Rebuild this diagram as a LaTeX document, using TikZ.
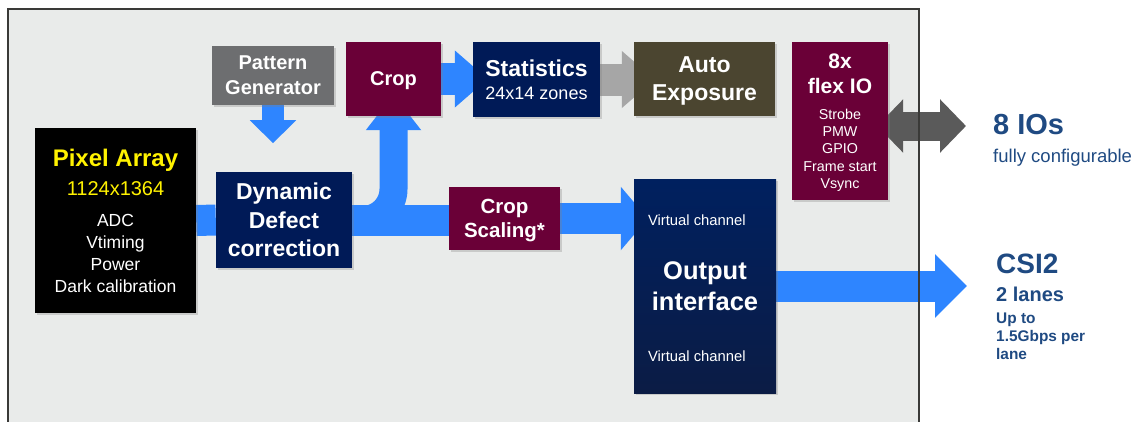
\documentclass[tikz,border=0pt]{standalone}
\usepackage{fontspec}
\setmainfont{Liberation Sans}
\usetikzlibrary{arrows.meta,shadows}
\definecolor{panelgray}{HTML}{E9EBEA}
\definecolor{panelline}{HTML}{3A3A38}
\definecolor{flowblue}{HTML}{2E85FF}
\definecolor{navy}{HTML}{001A57}
\definecolor{outtop}{HTML}{00205F}
\definecolor{outbottom}{HTML}{0B1C45}
\definecolor{cropred}{HTML}{6A0037}
\definecolor{aeolive}{HTML}{4B4530}
\definecolor{pggray}{HTML}{6D6E70}
\definecolor{statgray}{HTML}{A6A6A6}
\definecolor{iogray}{HTML}{5A5A5A}
\definecolor{pxyellow}{HTML}{FFF200}
\definecolor{labelblue}{HTML}{1F4A82}
\pgfdeclarelayer{back}
\pgfdeclarelayer{mid}
\pgfsetlayers{back,mid,main}
\begin{document}
\begin{tikzpicture}[x=1pt,y=-1pt]
\tikzstyle{every node}+=[inner sep=0pt]
\tikzstyle{box}=[rectangle, text=white, align=center, drop shadow={shadow xshift=1.5pt,shadow yshift=-1.5pt,opacity=0.3}]
\tikzstyle{band}=[color=flowblue, line width=31pt]
\tikzstyle{side}=[text=labelblue, anchor=north west, align=left]
\useasboundingbox (0,0) rectangle (1145,421);
\begin{pgfonlayer}{back}
\fill [panelgray] (8,9) rectangle (919,430);
\end{pgfonlayer}
\draw [panelline, line width=1.8pt] (8,430) -- (8,9) -- (919,9) -- (919,430);
\node [box, fill=black, minimum width=161pt, minimum height=185pt, font=\fontsize{17.5}{22}\selectfont] (pa) at (115.5,220.5) {{\fontsize{24}{28}\selectfont\bfseries\color{pxyellow}Pixel Array}\\[7pt]{\fontsize{20}{24}\selectfont\color{pxyellow}1124x1364}\\[9pt]ADC\\Vtiming\\Power\\Dark calibration};
\node [box, fill=pggray, minimum width=122pt, minimum height=59pt, font=\fontsize{20}{25}\selectfont\bfseries] (pg) at (273,75.5) {Pattern\\Generator};
\node [box, fill=cropred, minimum width=95pt, minimum height=74pt, text depth=0pt, font=\fontsize{20}{25}\selectfont\bfseries] (crop) at (393.5,79) {Crop};
\node [box, fill=navy, minimum width=136pt, minimum height=96pt, font=\fontsize{23}{28.5}\selectfont\bfseries] (ddc) at (284,220) {Dynamic\\Defect\\correction};
\node [box, fill=cropred, minimum width=111pt, minimum height=63pt, text depth=0pt, font=\fontsize{20.5}{24}\selectfont\bfseries] (cs) at (504.5,218.5) {Crop\\Scaling*};
\node [box, top color=outtop, bottom color=outbottom, minimum width=142pt, minimum height=214pt, font=\fontsize{25.5}{31}\selectfont\bfseries] (out) at (705,286) {Output\\interface};
\node [box, fill=navy, minimum width=127pt, minimum height=75pt, font=\fontsize{18}{23}\selectfont] (stats) at (536.5,79.5) {{\fontsize{23}{28}\selectfont\bfseries Statistics}\\24x14 zones};
\node [box, fill=aeolive, minimum width=141pt, minimum height=74pt, text depth=0pt, font=\fontsize{23}{28}\selectfont\bfseries] (ae) at (704.5,79) {Auto\\Exposure};
\node [box, fill=cropred, minimum width=96pt, minimum height=158pt, text depth=0pt, font=\fontsize{14.3}{17.3}\selectfont] (fio) at (840,121) {{\fontsize{21}{25}\selectfont\bfseries 8x}\\[7.7pt]{\fontsize{21}{25}\selectfont\bfseries flex IO}\\[8.7pt]Strobe\\PMW\\GPIO\\Frame start\\Vsync};
\node [text=white, anchor=west, font=\fontsize{14.8}{18}\selectfont] (vctop) at ([xshift=14pt,yshift=-41.5pt]out.north west) {Virtual channel};
\node [text=white, anchor=west, font=\fontsize{14.8}{18}\selectfont] (vcbot) at ([xshift=14pt,yshift=36.5pt]out.south west) {Virtual channel};
\node [side, font=\fontsize{18.5}{28}\selectfont] (ios) at (993,114) {{\fontsize{29}{34}\selectfont\bfseries 8 IOs}\\fully configurable};
\node [side, font=\fontsize{15.4}{18}\selectfont\bfseries] (csi) at (996,254) {{\fontsize{28}{32}\selectfont CSI2}\\[10pt]{\fontsize{20}{24}\selectfont 2 lanes}\\[4pt]Up to\\1.5Gbps per\\lane};
\coordinate (pgtip) at ([yshift=-38pt]pg.south);
\coordinate (iotip) at (966,126);
\coordinate (csitip) at (967,286);
\begin{pgfonlayer}{mid}
\draw [band] (pa.east) -- (ddc.west);
\draw [band] (ddc.east) -- (ddc.east -| cs.west);
\draw [band, line width=28pt, rounded corners=31pt, -{Triangle[width=53pt,length=36pt]}] (ddc.east) -| ([yshift=22pt]crop.south);
\draw [band, -{Triangle[width=62pt,length=27pt]}] (cs.east) -- ([xshift=14pt]cs.east -| out.west);
\draw [band, line width=32pt, -{Triangle[width=55pt,length=33pt]}] (crop.east) -- ([xshift=15pt]crop.east -| stats.west);
\draw [band, color=statgray, line width=32pt, -{Triangle[width=55pt,length=33pt]}] (stats.east) -- ([xshift=21pt]stats.east -| ae.west);
\draw [band, line width=22pt, -{Triangle[width=45pt,length=23pt]}] (pg.south) -- (pgtip);
\draw [band, color=iogray, line width=29pt, {Triangle[width=52pt,length=26pt]}-{Triangle[width=52pt,length=26pt]}] ([xshift=-11pt,yshift=-5pt]fio.east) -- (iotip);
\draw [band, -{Triangle[width=62pt,length=32pt]}] (out.east) -- (csitip);
\end{pgfonlayer}
\end{tikzpicture}
\end{document}
